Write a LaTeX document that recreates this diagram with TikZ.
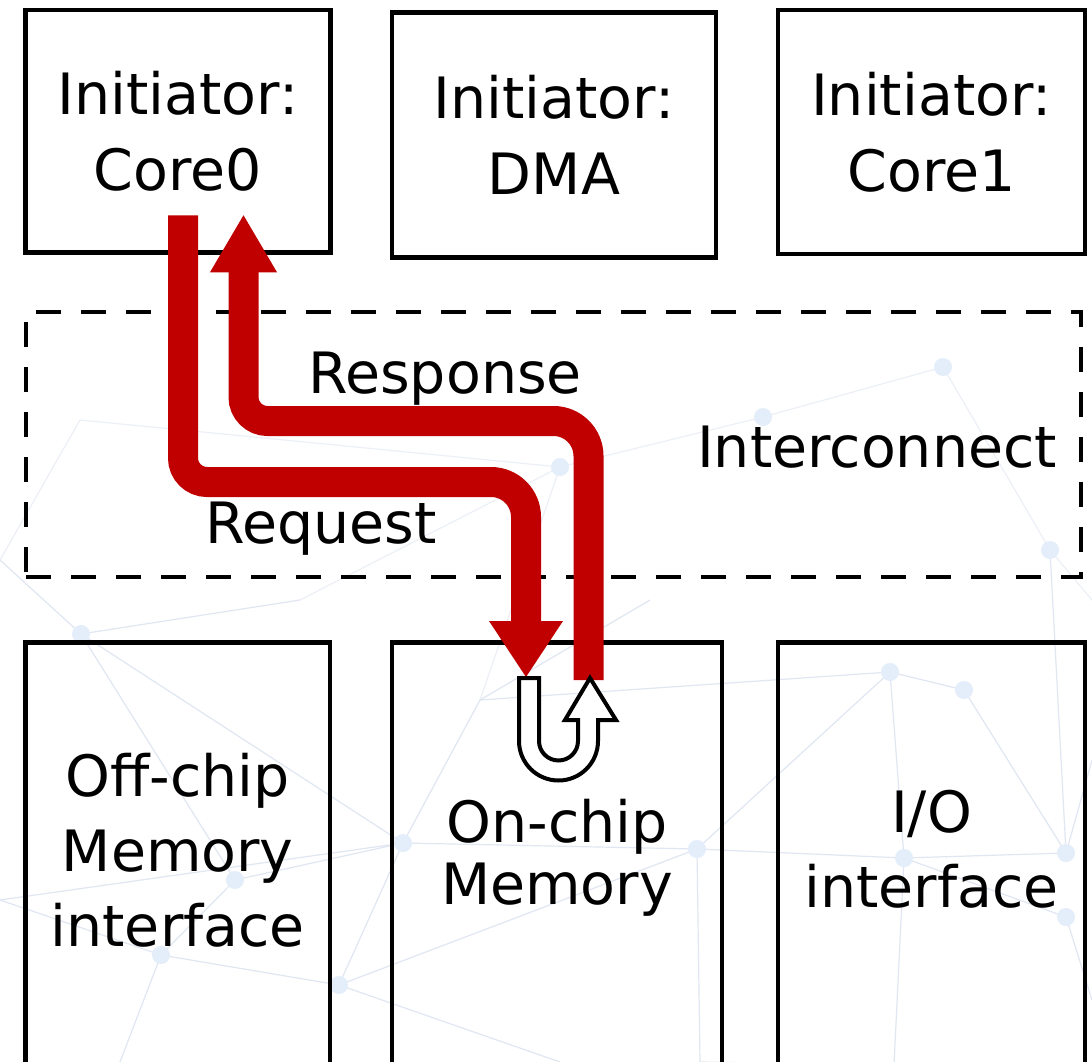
\documentclass[tikz,border=0pt]{standalone}
\usepackage{fontspec}
\setmainfont{DejaVu Sans}
\usetikzlibrary{calc}
\definecolor{flowred}{HTML}{C00000}
\definecolor{netline}{RGB}{224,231,242}
\definecolor{netfaint}{RGB}{236,240,246}
\definecolor{netdot}{RGB}{228,237,250}

\begin{document}
\begin{tikzpicture}[x=1pt,y=1pt,
  unitbox/.style={draw=black, line width=4.5pt, rectangle, inner sep=0pt,
    align=center, font=\fontsize{57}{76}\selectfont},
  targetbox/.style={draw=black, line width=4.5pt, rectangle, inner sep=0pt, anchor=north,
    minimum height=440},
  memtext/.style={align=center, inner sep=0pt},
  busframe/.style={draw=black, line width=4.5pt, dash pattern=on 25pt off 20pt,
    rectangle, inner sep=0pt},
  flowline/.style={draw=flowred, line width=30pt},
  flowhead/.style={fill=flowred},
  tag/.style={anchor=base, inner sep=0pt, font=\fontsize{57}{76}\selectfont},
  turn/.style={draw=black, line width=4pt, fill=white, line join=miter},
  netedge/.style={draw=netline, line width=1.2pt},
  netfaintedge/.style={draw=netfaint, line width=1.2pt},
  netnode/.style={fill=netdot}
]
\useasboundingbox (0,0) rectangle (1092,-1062);
\clip (0,0) rectangle (1092,-1062);
\fill[white] (0,0) rectangle (1092,-1062);

% faint network texture in the background
\coordinate (n1) at (81,-634);
\coordinate (n2) at (161,-955);
\coordinate (n3) at (339,-985);
\coordinate (n4) at (235,-880);
\coordinate (n5) at (403,-843);
\coordinate (n6) at (560,-467);
\coordinate (n7) at (697,-849);
\coordinate (n8) at (890,-672);
\coordinate (n9) at (964,-690);
\coordinate (n10) at (1066,-853);
\coordinate (n11) at (1066,-917);
\coordinate (n12) at (904,-858);
\coordinate (n13) at (894,-1065);
\coordinate (n14) at (943,-367);
\coordinate (n15) at (1050,-550);
\coordinate (n16) at (763,-417);
\coordinate (n17) at (0,-560);
\coordinate (n18) at (120,-1062);
\coordinate (n19) at (560,-1062);
\coordinate (n20) at (0,-900);
\coordinate (n21) at (700,-1062);
\coordinate (n22) at (1092,-760);
\coordinate (n23) at (1092,-1000);
\coordinate (n24) at (300,-600);
\coordinate (n25) at (650,-600);
\coordinate (n26) at (480,-700);
\coordinate (n27) at (1092,-600);
\coordinate (n29) at (80,-420);
\foreach \a/\b in {n6/n16,n16/n14,n14/n15,n15/n27,n17/n29,n29/n6,n24/n6,n6/n26}
  \draw[netfaintedge] (\a) -- (\b);
\foreach \a/\b in {n1/n4,n1/n24,n1/n17,n1/n5,n4/n2,n4/n5,n2/n3,n2/n20,n2/n18,
  n3/n5,n3/n19,n3/n7,n5/n26,n5/n7,n26/n25,n26/n8,n7/n12,n7/n8,n8/n9,n9/n10,
  n8/n12,n12/n11,n12/n10,n11/n23,n10/n22,n12/n13,n13/n21,n7/n21,n15/n10,n5/n20}
  \draw[netedge] (\a) -- (\b);
\foreach \p in {n1,n2,n3,n4,n5,n6,n7,n8,n9,n10,n11,n12,n14,n15,n16}
  \fill[netnode] (\p) circle[radius=9];

% initiators
\node[unitbox, minimum width=305, minimum height=242.5] (core0) at (178,-131.25) {Initiator:\\Core0};
\node[unitbox, minimum width=324, minimum height=245] (dma) at (554,-135) {Initiator:\\DMA};
\node[unitbox, minimum width=307, minimum height=244] (core1) at (931.5,-132) {Initiator:\\Core1};

% interconnect region
\node[busframe, minimum width=1055, minimum height=265] (bus) at (553.5,-444.5) {};
\node[tag] (buslabel) at (877,-467) {Interconnect};

% targets
\node[targetbox, minimum width=304.5] (offchip) at (177.75,-640) {};
\node[targetbox, minimum width=330] (onchip) at (557,-640) {};
\node[targetbox, minimum width=307] (io) at (931.5,-640) {};
\node[memtext, font=\fontsize{57}{75}\selectfont] (offchiptext) at (177.75,-850) {Off-chip\\Memory\\interface};
\node[memtext, font=\fontsize{57}{62}\selectfont] (onchiptext) at (557,-858) {On-chip\\Memory};
\node[memtext, font=\fontsize{57}{75}\selectfont] (iotext) at (931.5,-849) {I/O\\interface};

% request and response paths
\coordinate (reqtop) at ($(core0.south)+(5,39.5)$);
\coordinate (reqtip) at ($(onchip.north)+(-31,-37)$);
\coordinate (resbot) at ($(onchip.north)+(31.5,-40)$);
\coordinate (restip) at ($(core0.south)+(65.5,39.5)$);

\draw[flowline] (reqtop) -- (183,-458) arc[start angle=180, end angle=270, radius=24]
  -- (491,-482) arc[start angle=90, end angle=0, radius=35] -- ($(reqtip)+(0,55)$);
\fill[flowhead] ($(reqtip)+(-37,56)$) -- ($(reqtip)+(37,56)$) -- (reqtip) -- cycle;

\draw[flowline] (resbot) -- (588.5,-456) arc[start angle=0, end angle=90, radius=35]
  -- (267.5,-421) arc[start angle=270, end angle=180, radius=24] -- ($(restip)+(0,-56)$);
\fill[flowhead] ($(restip)+(-33.5,-57)$) -- ($(restip)+(33.5,-57)$) -- (restip) -- cycle;

\node[tag] (reslabel) at (445,-393) {Response};
\node[tag] (reqlabel) at (321,-543) {Request};

% U-turn symbol inside the on-chip memory
\draw[turn] (519,-678) -- (539,-678) -- (539,-741)
  arc[start angle=180, end angle=360, radius=19.5]
  -- (578,-720) -- (565,-720) -- (590,-678) -- (616,-720) -- (598,-720) -- (598,-741)
  arc[start angle=0, end angle=-180, radius=39.5] -- cycle;
\end{tikzpicture}
\end{document}
